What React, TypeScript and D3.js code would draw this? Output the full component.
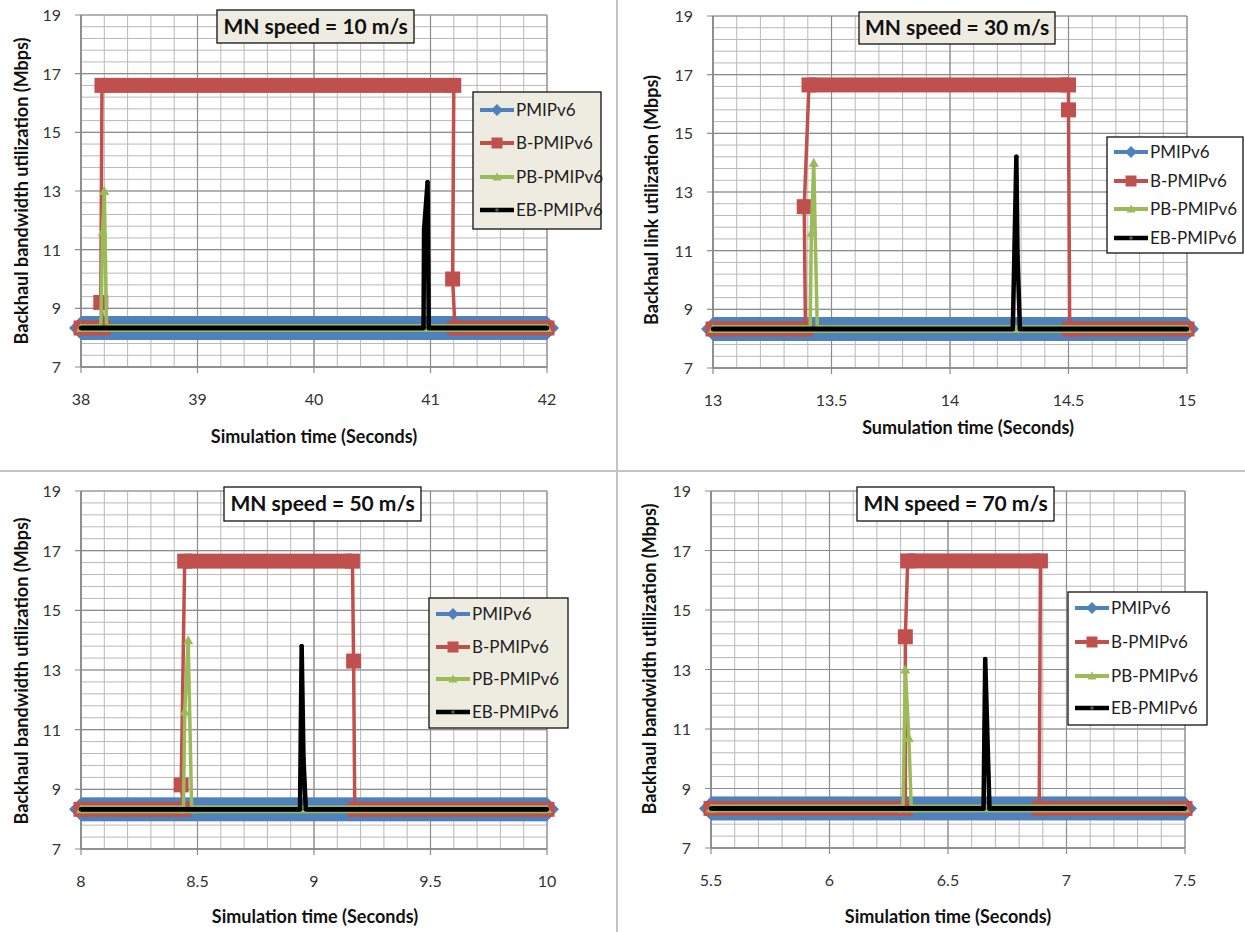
import React from "react";
import * as d3 from "d3";

type Pt = [number, number];

// ---------- data ----------
const seriesNames = ["PMIPv6", "B-PMIPv6", "PB-PMIPv6", "EB-PMIPv6"];
const seriesColors = ["#4F81BD", "#C0504D", "#9BBB59", "#000000"];
const yDomain: [number, number] = [7, 19];
const yTicks = [7, 9, 11, 13, 15, 17, 19];

const titles = ["MN speed = 10 m/s", "MN speed = 30 m/s", "MN speed = 50 m/s", "MN speed = 70 m/s"];
const xTitles = [
  "Simulation time (Seconds)",
  "Sumulation time (Seconds)",
  "Simulation time (Seconds)",
  "Simulation time (Seconds)",
];
const yTitles = [
  "Backhaul bandwidth utilization (Mbps)",
  "Backhaul link utilization (Mbps)",
  "Backhaul bandwidth utilization (Mbps)",
  "Backhaul bandwidth utlilization (Mbps)",
];

// Panel 1: MN speed = 10 m/s
const xTicks10 = [38, 39, 40, 41, 42];
const pmip10: Pt[] = [[38, 8.33], [42, 8.33]];
const bpmip10: Pt[] = [[38, 8.33], [38.19, 8.33], [38.17, 9.2], [38.18, 16.6], [41.2, 16.6], [41.19, 10.0], [41.21, 8.33], [42, 8.33]];
const pbpmip10: Pt[] = [[38, 8.33], [38.17, 8.33], [38.185, 11.6], [38.2, 13.0], [38.22, 8.33], [42, 8.33]];
const ebpmip10: Pt[] = [[38, 8.33], [40.94, 8.33], [40.945, 11.7], [40.975, 13.3], [40.985, 8.33], [42, 8.33]];

// Panel 2: MN speed = 30 m/s
const xTicks30 = [13, 13.5, 14, 14.5, 15];
const pmip30: Pt[] = [[13, 8.33], [15, 8.33]];
const bpmip30: Pt[] = [[13, 8.33], [13.39, 8.33], [13.385, 12.5], [13.405, 16.65], [14.5, 16.65], [14.5, 15.8], [14.505, 8.33], [15, 8.33]];
const pbpmip30: Pt[] = [[13, 8.33], [13.41, 8.33], [13.415, 11.6], [13.425, 14.0], [13.44, 8.33], [15, 8.33]];
const ebpmip30: Pt[] = [[13, 8.33], [14.265, 8.33], [14.28, 14.2], [14.285, 10.8], [14.295, 8.33], [15, 8.33]];

// Panel 3: MN speed = 50 m/s
const xTicks50 = [8, 8.5, 9, 9.5, 10];
const pmip50: Pt[] = [[8, 8.33], [10, 8.33]];
const bpmip50: Pt[] = [[8, 8.33], [8.44, 8.33], [8.43, 9.15], [8.445, 16.65], [9.165, 16.65], [9.17, 13.3], [9.175, 8.33], [10, 8.33]];
const pbpmip50: Pt[] = [[8, 8.33], [8.44, 8.33], [8.445, 11.6], [8.46, 14.0], [8.475, 8.33], [10, 8.33]];
const ebpmip50: Pt[] = [[8, 8.33], [8.94, 8.33], [8.947, 13.8], [8.955, 10.0], [8.965, 8.33], [10, 8.33]];

// Panel 4: MN speed = 70 m/s
const xTicks70 = [5.5, 6, 6.5, 7, 7.5];
const pmip70: Pt[] = [[5.5, 8.33], [7.5, 8.33]];
const bpmip70: Pt[] = [[5.5, 8.33], [6.32, 8.33], [6.32, 14.1], [6.33, 16.65], [6.89, 16.65], [6.885, 8.33], [7.5, 8.33]];
const pbpmip70: Pt[] = [[5.5, 8.33], [6.31, 8.33], [6.32, 13.0], [6.335, 10.7], [6.345, 8.33], [7.5, 8.33]];
const ebpmip70: Pt[] = [[5.5, 8.33], [6.65, 8.33], [6.657, 13.35], [6.675, 8.33], [7.5, 8.33]];

// ---------- layout ----------
const W = 1245;
const H = 932;
const FONT = "Lato, 'Open Sans', 'DejaVu Sans', sans-serif";
const BEIGE = "#EEECE1";

type Layout = {
  left: number; right: number; top: number; bottom: number;
  titleBox: [number, number, number, number]; titleFill: string;
  legendBox: [number, number, number, number]; legendFill: string; legendYs: number[];
  yTitleX: number; yTitleY: number; xTitleX: number; xTitleY: number;
};

const layouts: Layout[] = [
  { left: 81, right: 547, top: 15, bottom: 367, titleBox: [217, 10, 197, 33], titleFill: BEIGE,
    legendBox: [473, 92, 128, 137], legendFill: BEIGE, legendYs: [110, 143, 177, 210],
    yTitleX: 22, yTitleY: 191, xTitleX: 314, xTitleY: 437 },
  { left: 713, right: 1187, top: 16, bottom: 368, titleBox: [859, 12, 196, 32], titleFill: BEIGE,
    legendBox: [1107, 137, 136, 116], legendFill: "#ffffff", legendYs: [152, 181, 209, 238],
    yTitleX: 652, yTitleY: 200, xTitleX: 968, xTitleY: 428 },
  { left: 81, right: 547, top: 491, bottom: 849, titleBox: [224, 487, 197, 34], titleFill: "#ffffff",
    legendBox: [429, 598, 139, 130], legendFill: BEIGE, legendYs: [614, 647, 679, 712],
    yTitleX: 22, yTitleY: 671, xTitleX: 315, xTitleY: 917 },
  { left: 711, right: 1185, top: 491, bottom: 848, titleBox: [857, 487, 197, 34], titleFill: "#ffffff",
    legendBox: [1068, 592, 139, 133], legendFill: "#ffffff", legendYs: [608, 642, 676, 708],
    yTitleX: 650, yTitleY: 659, xTitleX: 948, xTitleY: 917 },
];

const panelTicks = [xTicks10, xTicks30, xTicks50, xTicks70];
const panelSeries: Pt[][][] = [
  [pmip10, bpmip10, pbpmip10, ebpmip10],
  [pmip30, bpmip30, pbpmip30, ebpmip30],
  [pmip50, bpmip50, pbpmip50, ebpmip50],
  [pmip70, bpmip70, pbpmip70, ebpmip70],
];

type Style = { band: number; line: number; marker: string; ms: number };
const seriesStyle: Style[] = [
  { band: 24, line: 4, marker: "diamond", ms: 12 },
  { band: 15, line: 3.5, marker: "square", ms: 7.5 },
  { band: 8, line: 3.5, marker: "triangle", ms: 5 },
  { band: 4.5, line: 4.5, marker: "dot", ms: 2.2 },
];

function markerPath(kind: string, h: number): string {
  if (kind === "diamond") return `M0,${-h}L${h},0L0,${h}L${-h},0Z`;
  if (kind === "square") return `M${-h},${-h}H${h}V${h}H${-h}Z`;
  if (kind === "triangle") return `M0,${-h}L${h},${h * 0.8}L${-h},${h * 0.8}Z`;
  return d3.symbol(d3.symbolCircle, Math.PI * h * h)() || "";
}

function Panel({ idx }: { idx: number }) {
  const L = layouts[idx];
  const ticks = panelTicks[idx];
  const series = panelSeries[idx];
  const x = d3.scaleLinear().domain([ticks[0], ticks[ticks.length - 1]]).range([L.left, L.right]);
  const y = d3.scaleLinear().domain(yDomain).range([L.bottom, L.top]);
  const xStep = (ticks[1] - ticks[0]) / 5;
  const xMinor = d3.range(0, (ticks.length - 1) * 5 + 1).map((i) => ticks[0] + i * xStep);
  const yStep = (yTicks[1] - yTicks[0]) / 5;
  const yMinor = d3.range(0, (yTicks.length - 1) * 5 + 1).map((i) => yTicks[0] + i * yStep);
  const line = d3.line<Pt>().x((d) => x(d[0])).y((d) => y(d[1]));

  return (
    <g>
      {/* minor grid */}
      {xMinor.map((v, i) => (
        <line key={"xm" + i} x1={x(v)} x2={x(v)} y1={L.top} y2={L.bottom} stroke="#b8b8b8" strokeWidth={1} />
      ))}
      {yMinor.map((v, i) => (
        <line key={"ym" + i} x1={L.left} x2={L.right} y1={y(v)} y2={y(v)} stroke="#b8b8b8" strokeWidth={1} />
      ))}
      {/* major grid */}
      {ticks.map((v, i) => (
        <line key={"xM" + i} x1={x(v)} x2={x(v)} y1={L.top} y2={L.bottom + 6} stroke="#8c8c8c" strokeWidth={1.2} />
      ))}
      {yTicks.map((v, i) => (
        <line key={"yM" + i} x1={L.left - 6} x2={L.right} y1={y(v)} y2={y(v)} stroke="#8c8c8c" strokeWidth={1.2} />
      ))}
      {/* axes */}
      <line x1={L.left} x2={L.left} y1={L.top} y2={L.bottom} stroke="#868686" strokeWidth={1.5} />
      <line x1={L.left} x2={L.right} y1={L.bottom} y2={L.bottom} stroke="#868686" strokeWidth={1.5} />
      {/* tick labels */}
      {yTicks.map((v, i) => (
        <text key={"yl" + i} x={L.left - 20} y={y(v) + 6} textAnchor="end" fontSize={16} fill="#333" fontFamily={FONT}>
          {String(v)}
        </text>
      ))}
      {ticks.map((v, i) => (
        <text key={"xl" + i} x={x(v)} y={L.bottom + 38} textAnchor="middle" fontSize={16} fill="#333" fontFamily={FONT}>
          {String(v)}
        </text>
      ))}
      {/* series */}
      {series.map((pts, si) => {
        const st = seriesStyle[si];
        const col = seriesColors[si];
        const bands = pts.slice(0, -1).map((p, i) => {
          const q = pts[i + 1];
          if (p[1] !== q[1]) return null;
          const xa = Math.min(x(p[0]), x(q[0]));
          const xb = Math.max(x(p[0]), x(q[0]));
          return <rect key={"b" + i} x={xa} y={y(p[1]) - st.band / 2} width={xb - xa} height={st.band} fill={col} />;
        });
        return (
          <g key={"s" + si}>
            {bands}
            <path d={line(pts) || ""} fill="none" stroke={col} strokeWidth={st.line} strokeLinejoin="round" />
            {pts.map((p, i) => (
              <path key={"m" + i} d={markerPath(st.marker, st.ms)} transform={`translate(${x(p[0])},${y(p[1])})`} fill={col} />
            ))}
          </g>
        );
      })}
      {/* title box */}
      <rect x={L.titleBox[0]} y={L.titleBox[1]} width={L.titleBox[2]} height={L.titleBox[3]} fill={L.titleFill} stroke="#111" strokeWidth={1.3} />
      <text x={L.titleBox[0] + L.titleBox[2] / 2} y={L.titleBox[1] + L.titleBox[3] / 2 + 7} textAnchor="middle" fontSize={21} fontWeight="bold" fill="#111" fontFamily={FONT}>
        {titles[idx]}
      </text>
      {/* legend */}
      <rect x={L.legendBox[0]} y={L.legendBox[1]} width={L.legendBox[2]} height={L.legendBox[3]} fill={L.legendFill} stroke="#111" strokeWidth={1.3} />
      {seriesNames.map((name, si) => {
        const ly = L.legendYs[si];
        const x0 = L.legendBox[0] + 7;
        const x1 = L.legendBox[0] + 41;
        const st = seriesStyle[si];
        const lm = [6, 5.5, 4.5, 1.8][si];
        return (
          <g key={"lg" + si}>
            <line x1={x0} x2={x1} y1={ly} y2={ly} stroke={seriesColors[si]} strokeWidth={si === 3 ? 4.5 : 4} />
            <path d={markerPath(st.marker, lm)} transform={`translate(${(x0 + x1) / 2},${ly})`} fill={si === 3 ? "#555" : seriesColors[si]} />
            <text x={x1 + 2} y={ly + 6} fontSize={17} fill="#1e1e1e" fontFamily={FONT}>
              {name}
            </text>
          </g>
        );
      })}
      {/* axis titles */}
      <text x={L.xTitleX} y={L.xTitleY + 6} textAnchor="middle" fontSize={18} fontWeight="bold" fill="#111" fontFamily={FONT}>
        {xTitles[idx]}
      </text>
      <text transform={`translate(${L.yTitleX + 6},${L.yTitleY}) rotate(-90)`} textAnchor="middle" fontSize={18} fontWeight="bold" fill="#111" fontFamily={FONT}>
        {yTitles[idx]}
      </text>
    </g>
  );
}

export default function App() {
  return (
    <svg width={W} height={H} viewBox={`0 0 ${W} ${H}`} style={{ position: "absolute", left: 0, top: 0, background: "#fff" }}>
      <rect x={0} y={0} width={W} height={H} fill="#fff" />
      <line x1={0} x2={W} y1={471} y2={471} stroke="#c4c4c4" strokeWidth={2} />
      <line x1={617} x2={617} y1={0} y2={H} stroke="#c4c4c4" strokeWidth={2} />
      {[0, 1, 2, 3].map((i) => (
        <Panel key={i} idx={i} />
      ))}
    </svg>
  );
}
